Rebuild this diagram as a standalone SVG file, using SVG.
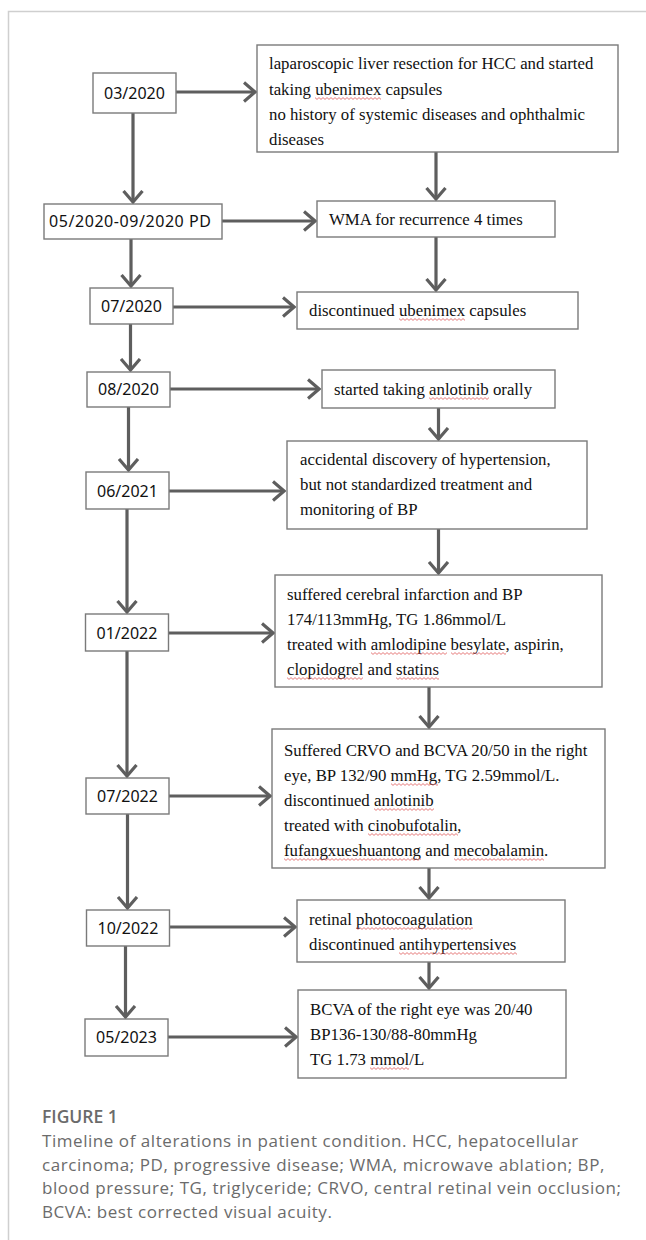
<svg xmlns="http://www.w3.org/2000/svg" width="646" height="1240" viewBox="0 0 646 1240">
<style>
.frame{stroke:#cfcfcf;stroke-width:1.5;fill:none}
.box{fill:#fff;stroke:#7a7a7a;stroke-width:1.4}
.date{font-family:"Noto Sans","Open Sans",sans-serif;font-size:16px;fill:#111;text-anchor:middle}
.date2{font-family:"Noto Sans","Open Sans",sans-serif;font-size:16px;fill:#111}
.t{font-family:"Liberation Serif","Times New Roman",serif;font-size:16.8px;fill:#111}
.sq{fill:url(#wave)}
.conn line{stroke:#5e5e5e;stroke-width:3.2;fill:none}
.cap{font-family:"Open Sans",Lato,sans-serif;font-size:17px;letter-spacing:0.55px;fill:#6b6b6b}
.caph{font-family:"Open Sans",Lato,sans-serif;font-size:17.5px;font-weight:600;fill:#6b6b6b}
</style>
<defs>
<marker id="arr" viewBox="0 0 14 22" refX="12.5" refY="11" markerWidth="14" markerHeight="22" orient="auto" markerUnits="userSpaceOnUse">
<path d="M1.5,1.5 L12.5,11 L1.5,20.5" fill="none" stroke="#5e5e5e" stroke-width="3.2"/>
</marker>
<pattern id="wave" patternUnits="userSpaceOnUse" width="4" height="3">
<path d="M0,0.6 L2,2.4 L4,0.6" fill="none" stroke="#e05a5a" stroke-width="0.8"/>
</pattern>
</defs>
<rect width="646" height="1240" fill="#fff"/>
<path class="frame" d="M8.5,1240 V11.5 H646"/>

<g id="connectors" class="conn">
<line x1="176" y1="92" x2="255" y2="92" marker-end="url(#arr)"/>
<line x1="222" y1="221" x2="315" y2="221" marker-end="url(#arr)"/>
<line x1="173" y1="307" x2="294" y2="307" marker-end="url(#arr)"/>
<line x1="170" y1="389" x2="319" y2="389" marker-end="url(#arr)"/>
<line x1="169" y1="491" x2="284" y2="491" marker-end="url(#arr)"/>
<line x1="169" y1="633" x2="273" y2="633" marker-end="url(#arr)"/>
<line x1="169" y1="796" x2="270" y2="796" marker-end="url(#arr)"/>
<line x1="170" y1="927" x2="295" y2="927" marker-end="url(#arr)"/>
<line x1="168" y1="1037" x2="296" y2="1037" marker-end="url(#arr)"/>
<line x1="133" y1="113" x2="133" y2="202" marker-end="url(#arr)"/>
<line x1="131" y1="239" x2="131" y2="286" marker-end="url(#arr)"/>
<line x1="130.5" y1="324" x2="130.5" y2="370" marker-end="url(#arr)"/>
<line x1="128.5" y1="407" x2="128.5" y2="470" marker-end="url(#arr)"/>
<line x1="127" y1="509" x2="127" y2="612" marker-end="url(#arr)"/>
<line x1="127" y1="651" x2="127" y2="776" marker-end="url(#arr)"/>
<line x1="127.5" y1="814" x2="127.5" y2="908" marker-end="url(#arr)"/>
<line x1="125.5" y1="946" x2="125.5" y2="1017" marker-end="url(#arr)"/>
<line x1="436" y1="152" x2="436" y2="199" marker-end="url(#arr)"/>
<line x1="436" y1="237" x2="436" y2="290" marker-end="url(#arr)"/>
<line x1="438.5" y1="408" x2="438.5" y2="439" marker-end="url(#arr)"/>
<line x1="438.5" y1="529" x2="438.5" y2="573" marker-end="url(#arr)"/>
<line x1="429" y1="687" x2="429" y2="727" marker-end="url(#arr)"/>
<line x1="429" y1="868" x2="429" y2="898" marker-end="url(#arr)"/>
<line x1="429" y1="962" x2="429" y2="988" marker-end="url(#arr)"/>
</g>

<g id="d1"><rect class="box" x="93" y="73" width="83" height="40"/><text class="date" x="134.5" y="98.5">03/2020</text></g>
<g id="d2"><rect class="box" x="44" y="204" width="178" height="35"/><text class="date2" x="49" y="227" textLength="162" lengthAdjust="spacing">05/2020-09/2020 PD</text></g>
<g id="d3"><rect class="box" x="90" y="288" width="83" height="36"/><text class="date" x="131.5" y="312">07/2020</text></g>
<g id="d4"><rect class="box" x="87" y="372" width="83" height="35"/><text class="date" x="128.5" y="395">08/2020</text></g>
<g id="d5"><rect class="box" x="86" y="472" width="83" height="37"/><text class="date" x="127.5" y="497">06/2021</text></g>
<g id="d6"><rect class="box" x="85.5" y="614" width="83" height="37"/><text class="date" x="127" y="639">01/2022</text></g>
<g id="d7"><rect class="box" x="86" y="778" width="83" height="36"/><text class="date" x="127.5" y="802">07/2022</text></g>
<g id="d8"><rect class="box" x="86.5" y="910" width="83" height="36"/><text class="date" x="128" y="934">10/2022</text></g>
<g id="d9"><rect class="box" x="85" y="1019" width="83" height="37"/><text class="date" x="126.5" y="1043">05/2023</text></g>

<g id="b1"><rect class="box" x="257" y="45" width="361" height="107"/>
<text class="t" x="269" y="69">laparoscopic liver resection for HCC and started</text>
<text class="t" x="269" y="95">taking ubenimex capsules</text>
<rect class="sq" transform="translate(315,97)" width="66" height="3"/>
<text class="t" x="269" y="120">no history of systemic diseases and ophthalmic</text>
<text class="t" x="269" y="145">diseases</text></g>
<g id="b2"><rect class="box" x="317" y="201" width="238" height="36"/>
<text class="t" x="329" y="225">WMA for recurrence 4 times</text></g>
<g id="b3"><rect class="box" x="297" y="292" width="281" height="37"/>
<text class="t" x="309" y="316">discontinued ubenimex capsules</text>
<rect class="sq" transform="translate(399,318)" width="66" height="3"/></g>
<g id="b4"><rect class="box" x="322" y="370" width="233" height="38"/>
<text class="t" x="334" y="395">started taking anlotinib orally</text>
<rect class="sq" transform="translate(429,397)" width="60" height="3"/></g>
<g id="b5"><rect class="box" x="287" y="441" width="300" height="88"/>
<text class="t" x="300" y="465">accidental discovery of hypertension,</text>
<text class="t" x="300" y="490">but not standardized treatment and</text>
<text class="t" x="300" y="515">monitoring of BP</text></g>
<g id="b6"><rect class="box" x="275" y="575" width="327" height="112"/>
<text class="t" x="287" y="600">suffered cerebral infarction and BP</text>
<text class="t" x="287" y="625">174/113mmHg, TG 1.86mmol/L</text>
<text class="t" x="287" y="650">treated with amlodipine besylate, aspirin,</text>
<rect class="sq" transform="translate(371,652)" width="76" height="3"/>
<rect class="sq" transform="translate(451,652)" width="55" height="3"/>
<text class="t" x="287" y="675">clopidogrel and statins</text>
<rect class="sq" transform="translate(287,677)" width="76" height="3"/>
<rect class="sq" transform="translate(396,677)" width="43" height="3"/></g>
<g id="b7"><rect class="box" x="272" y="729" width="333" height="139"/>
<text class="t" x="284" y="756">Suffered CRVO and BCVA 20/50 in the right</text>
<text class="t" x="284" y="781">eye, BP 132/90 mmHg, TG 2.59mmol/L.</text>
<rect class="sq" transform="translate(391,783)" width="47" height="3"/>
<text class="t" x="284" y="806">discontinued anlotinib</text>
<rect class="sq" transform="translate(374,808)" width="60" height="3"/>
<text class="t" x="284" y="831">treated with cinobufotalin,</text>
<rect class="sq" transform="translate(368,833)" width="90" height="3"/>
<text class="t" x="284" y="856">fufangxueshuantong and mecobalamin.</text>
<rect class="sq" transform="translate(284,858)" width="137" height="3"/>
<rect class="sq" transform="translate(454,858)" width="90" height="3"/></g>
<g id="b8"><rect class="box" x="297" y="900" width="268" height="62"/>
<text class="t" x="309" y="925">retinal photocoagulation</text>
<rect class="sq" transform="translate(356,927)" width="117" height="3"/>
<text class="t" x="309" y="950">discontinued antihypertensives</text>
<rect class="sq" transform="translate(399,952)" width="118" height="3"/></g>
<g id="b9"><rect class="box" x="298" y="990" width="268" height="88"/>
<text class="t" x="310" y="1015">BCVA of the right eye was 20/40</text>
<text class="t" x="310" y="1040">BP136-130/88-80mmHg</text>
<text class="t" x="310" y="1065">TG 1.73 mmol/L</text>
<rect class="sq" transform="translate(370,1067)" width="39" height="3"/></g>

<g id="caption">
<text class="caph" x="42" y="1123">FIGURE 1</text>
<text class="cap" x="42" y="1147">Timeline of alterations in patient condition. HCC, hepatocellular</text>
<text class="cap" x="42" y="1171">carcinoma; PD, progressive disease; WMA, microwave ablation; BP,</text>
<text class="cap" x="42" y="1194">blood pressure; TG, triglyceride; CRVO, central retinal vein occlusion;</text>
<text class="cap" x="42" y="1218">BCVA: best corrected visual acuity.</text>
</g>
</svg>
